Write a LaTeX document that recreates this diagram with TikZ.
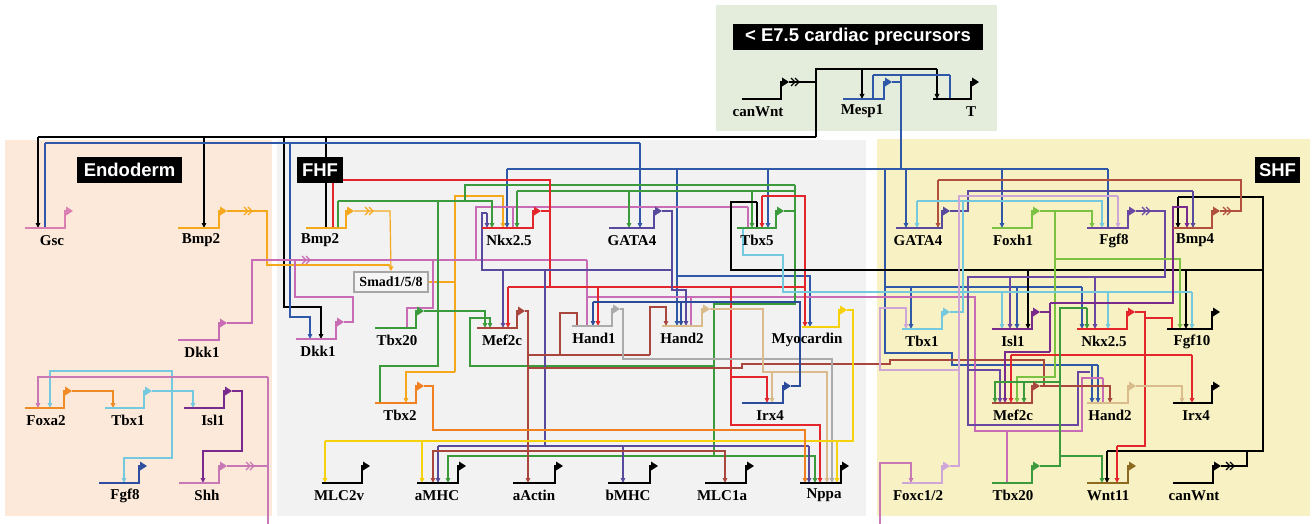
\documentclass[tikz,border=0pt]{standalone}
\usepackage{fontspec}
\setmainfont{Liberation Serif}
\newfontfamily\hdfont{Liberation Sans}
\usetikzlibrary{arrows.meta}
\definecolor{bgTop}{HTML}{E4ECDB}
\definecolor{bgEnd}{HTML}{FDE9D9}
\definecolor{bgFHF}{HTML}{F2F2F2}
\definecolor{bgSHF}{HTML}{F7F1C4}
\definecolor{cGsc}{HTML}{D97FB2}
\definecolor{cBmp}{HTML}{F6A81C}
\definecolor{cDkk}{HTML}{C86CB6}
\definecolor{cFoxa}{HTML}{F08A24}
\definecolor{cTbxa}{HTML}{74C9DE}
\definecolor{cIsl}{HTML}{7A2A8C}
\definecolor{cFgfE}{HTML}{2F4EA0}
\definecolor{cShh}{HTML}{C978B6}
\definecolor{cNkx}{HTML}{E3262B}
\definecolor{cGata}{HTML}{5A4A9E}
\definecolor{cTbxe}{HTML}{3A9A3C}
\definecolor{cTbxt}{HTML}{3A9A3C}
\definecolor{cMef}{HTML}{A9473E}
\definecolor{cHanda}{HTML}{ABABAB}
\definecolor{cHandb}{HTML}{D9BB8C}
\definecolor{cMyo}{HTML}{F6D20C}
\definecolor{cTbxb}{HTML}{F08020}
\definecolor{cIrx}{HTML}{2A4C9A}
\definecolor{cMesp}{HTML}{2F58A8}
\definecolor{cFoxh}{HTML}{7CC242}
\definecolor{cFgfS}{HTML}{6A48A2}
\definecolor{cBmpf}{HTML}{B2503E}
\definecolor{cFoxc}{HTML}{CFA6D8}
\definecolor{cWnt}{HTML}{8C6B20}
\pgfdeclarelayer{bg}
\pgfdeclarelayer{lines}
\pgfsetlayers{bg,lines,main}
\tikzset{
  ln/.style={line width=1.2pt},
  ac/.style={line width=1.2pt,-{Triangle[length=5pt,width=4.6pt]}},
  rp/.style={line width=1.2pt,-{Bar[width=6pt]}},
  glab/.style={font=\bfseries\fontsize{15}{15}\selectfont, inner sep=0pt},
  hdr/.style={fill=black, text=white, font=\hdfont\bfseries\fontsize{18.5}{18.5}\selectfont, inner sep=0pt, minimum height=26pt},
}
\newcommand\gene[7]{%
  \draw[line width=2.6pt,#2] (#3,#5) -- (#4,#5);
  \draw[line width=2pt,#2] ({#4-1},#5) -- ({#4-1},{#5-17}) -- ({#4+1},{#5-17});
  \fill[#2] ({#4},{#5-21.5}) -- ({#4+7},{#5-17}) -- ({#4},{#5-12.5}) -- cycle;
  \coordinate (#1o) at ({#4+7},{#5-17});
  \coordinate (#1) at (#3,#5);
  \node[glab] (#1l) at (#6,{#5+12.5}) {#7};
}
\newcommand\chev[3]{%
  \draw[#3,line width=1.2pt] (#1,{#2-4}) -- ({#1+4},#2) -- (#1,{#2+4})
    ({#1+4},{#2-4}) -- ({#1+8},#2) -- ({#1+4},{#2+4});
}
\begin{document}
\begin{tikzpicture}[x=1pt,y=-1pt]
\useasboundingbox (0,0) rectangle (1312,524);
\begin{pgfonlayer}{bg}
  \fill[white] (0,0) rectangle (1312,524);
  \fill[bgTop] (716,5) rectangle (997,131);
  \fill[bgEnd] (5,140) rectangle (272,516);
  \fill[bgFHF] (277,140) rectangle (866,516);
  \fill[bgSHF] (877,139) rectangle (1310,516);
\end{pgfonlayer}

% ---------- genes ----------
\gene{cwT}{black}{742}{782}{99}{758}{canWnt}
\gene{mesp}{cMesp}{843}{885}{99}{862}{Mesp1}
\gene{tT}{black}{933}{972}{99}{971}{T}
% endoderm
\gene{gsc}{cGsc}{25}{66}{228}{52}{Gsc}
\gene{bmpE}{cBmp}{178}{220}{228}{201}{Bmp2}
\gene{dkE}{cDkk}{178}{220}{340}{202}{Dkk1}
\gene{foxa}{cFoxa}{25}{65}{408}{46}{Foxa2}
\gene{tbxaE}{cTbxa}{105}{145}{408}{128}{Tbx1}
\gene{islE}{cIsl}{184}{225}{408}{213}{Isl1}
\gene{fgfE}{cFgfE}{99}{140}{483}{125}{Fgf8}
\gene{shh}{cShh}{179}{220}{483}{207}{Shh}
% FHF
\gene{bmpF}{cBmp}{306}{347}{228}{320}{Bmp2}
\gene{dkF}{cDkk}{296}{337}{339}{318}{Dkk1}
\gene{tbxtF}{cTbxt}{375}{417}{328}{397}{Tbx20}
\gene{tbxb}{cTbxb}{375}{417}{403}{400}{Tbx2}
\gene{mefF}{cMef}{477}{518}{328}{502}{Mef2c}
\gene{nkF}{cNkx}{482}{534}{228}{509}{Nkx2.5}
\gene{gataF}{cGata}{609}{655}{228}{632}{GATA4}
\gene{tbxeF}{cTbxe}{737}{777}{228}{757}{Tbx5}
\gene{ha}{cHanda}{572}{613}{326}{594}{Hand1}
\gene{hbF}{cHandb}{662}{703}{326}{682}{Hand2}
\gene{myo}{cMyo}{802}{840}{327}{807}{Myocardin}
\gene{irxF}{cIrx}{742}{784}{403}{770}{Irx4}
\gene{mlcv}{black}{322}{363}{483}{339}{MLC2v}
\gene{amhc}{black}{417}{459}{483}{437}{aMHC}
\gene{aact}{black}{513}{556}{483}{534}{aActin}
\gene{bmhc}{black}{608}{651}{483}{628}{bMHC}
\gene{mlca}{black}{705}{747}{483}{722}{MLC1a}
\gene{nppa}{black}{800}{842}{483}{824}{Nppa}
\node[draw=gray!70, line width=1.4pt, fill=gray!8, font=\bfseries\fontsize{14}{14}\selectfont, inner sep=0pt, minimum width=74pt, minimum height=20pt] (smad) at (391,282) {Smad1/5/8};
% SHF
\gene{gataS}{cGata}{896}{943}{228}{918}{GATA4}
\gene{foxh}{cFoxh}{992}{1033}{228}{1013}{Foxh1}
\gene{fgfS}{cFgfS}{1087}{1129}{228}{1114}{Fgf8}
\gene{bmpf}{cBmpf}{1173}{1213}{228}{1195}{Bmp4}
\gene{tbxaS}{cTbxa}{902}{943}{329}{922}{Tbx1}
\gene{islS}{cIsl}{992}{1033}{329}{1013}{Isl1}
\gene{nkS}{cNkx}{1077}{1128}{329}{1104}{Nkx2.5}
\gene{fgft}{black}{1167}{1213}{329}{1192}{Fgf10}
\gene{mefS}{cMef}{992}{1033}{403}{1013}{Mef2c}
\gene{hbS}{cHandb}{1087}{1129}{403}{1110}{Hand2}
\gene{irxS}{black}{1173}{1213}{403}{1196}{Irx4}
\gene{foxc}{cFoxc}{902}{943}{483}{918}{Foxc1/2}
\gene{tbxtS}{cTbxt}{992}{1033}{483}{1013}{Tbx20}
\gene{wnt}{cWnt}{1087}{1129}{483}{1108}{Wnt11}
\gene{cwS}{black}{1173}{1214}{483}{1194}{canWnt}

\begin{pgfonlayer}{lines}
% canWnt (top)
\draw[ln] (cwTo) -- (816,82); \chev{791}{82}{black}
\draw[ln] (816,137) -- (816,69) -- (937,69);
\draw[ac] (937,69) -- (937,0 |- tT);
\draw[ac] (862,69) -- (862,0 |- mesp);
\draw[ln] (816,137) -- (38,137);
\draw[ac] (38,137) -- (38,0 |- gsc);
\draw[ac] (204,137) -- (204,0 |- bmpE);
\draw[ac] (284,137) -- (284,307) -- (321,307) -- (321,0 |- dkF);
\draw[rp] (326,137) -- (326,0 |- bmpF);
% Mesp1
\draw[ln,cMesp] (mespo) -- (901,82);
\draw[ln,cMesp] (901,75) -- (901,169);
\draw[ln,cMesp] (873,75) -- (950,75);
\draw[rp,cMesp] (873,75) -- (873,0 |- mesp);
\draw[rp,cMesp] (950,75) -- (950,0 |- tT);
\draw[ln,cMesp] (1108,169) -- (507,169);
\draw[ac,cMesp] (507,169) -- (507,0 |- nkF);
\draw[ac,cMesp] (768,169) -- (768,0 |- tbxeF);
\draw[ac,cMesp] (677,169) -- (677,0 |- hbF);
\draw[ac,cMesp] (640,143) -- (640,0 |- gataF);
\draw[ln,cMesp] (640,143) -- (45,143);
\draw[rp,cMesp] (45,143) -- (45,0 |- gsc);
\draw[ac,cMesp] (290,143) -- (290,317) -- (310,317) -- (310,0 |- dkF);
\draw[ac,cMesp] (906,169) -- (906,0 |- gataS);
\draw[ac,cMesp] (1002,169) -- (1002,0 |- foxh);
\draw[rp,cMesp] (1108,169) -- (1108,0 |- fgfS);
\draw[ac,cMesp] (677,276) -- (810,276) -- (810,0 |- myo);
\draw[ln,cMesp] (885,169) -- (885,353) -- (952,353) -- (952,365) -- (1098,365);
\draw[ac,cMesp] (1098,365) -- (1098,0 |- hbS);
\draw[ac,cMesp] (1092,365) -- (1092,0 |- hbS);
\draw[ln,cMesp] (885,287) -- (1082,287);
\draw[ac,cMesp] (1082,287) -- (1082,0 |- nkS);
\draw[ac,cMesp] (911,287) -- (911,0 |- tbxaS);
\draw[ac,cMesp] (1017,287) -- (1017,0 |- islS);
% endoderm lower
\draw[ac,cFoxa] (foxao) -- (113,391) -- (113,0 |- tbxaE);
\draw[ac,cTbxa] (tbxaEo) -- (193,391) -- (193,0 |- islE);
\draw[ac,cTbxa] (172,391) -- (172,371) -- (50,371) -- (50,0 |- foxa);
\draw[ac,cTbxa] (172,391) -- (172,458) -- (124,458) -- (124,0 |- fgfE);
\draw[ac,cIsl] (islEo) -- (242,391) -- (242,451) -- (203,451) -- (203,0 |- shh);
\draw[ln,cShh] (shho) -- (268,466); \chev{246}{466}{cShh}
\draw[ln,cShh] (268,524) -- (268,377);
\draw[ac,cShh] (268,377) -- (38,377) -- (38,0 |- foxa);
\draw[ac,cShh] (880,524) -- (880,463) -- (911,463) -- (911,0 |- foxc);
% Bmp2 endoderm and FHF, Smad
\draw[ln,cBmp] (bmpEo) -- (267,211) -- (267,265) -- (390,265); \chev{244}{211}{cBmp}
\draw[ac,cBmp] (bmpFo) -- (390,211) -- (smad.north); \chev{365}{211}{cBmp}
\draw[ln,cBmp] (smad.east) -- (455,282);
\draw[ac,cBmp] (455,372) -- (455,196) -- (503,196) -- (503,0 |- nkF);
\draw[ac,cBmp] (455,372) -- (406,372) -- (406,0 |- tbxb);
% Dkk1
\draw[ln,cDkk] (dkEo) -- (252,323) -- (252,260) -- (587,260); \chev{302}{260}{cDkk}
\draw[rp,cDkk] (587,260) -- (587,0 |- ha);
\draw[rp,cDkk] (433,260) -- (433,308) -- (407,308) -- (407,0 |- tbxtF);
\draw[ln,cDkk] (476,260) -- (476,207) -- (748,207);
\draw[rp,cDkk] (748,207) -- (748,0 |- tbxeF);
\draw[rp,cDkk] (513,207) -- (513,0 |- nkF);
\draw[ln,cDkk] (587,297) -- (975,297) -- (975,431) -- (1082,431) -- (1082,378) -- (1103,378);
\draw[rp,cDkk] (1103,378) -- (1103,0 |- hbS);
\draw[rp,cDkk] (1007,431) -- (1007,0 |- tbxtS);
\draw[rp,cDkk] (691,297) -- (691,0 |- hbF);
\draw[ln,cDkk] (dkFo) -- (353,322) -- (353,297) -- (295,297) -- (295,260);
% Tbx20 FHF
\draw[ac,cTbxt] (tbxtFo) -- (485,311) -- (485,0 |- mefF);
\draw[ln,cTbxt] (438,311) -- (438,201);
\draw[rp,cTbxt] (438,311) -- (438,366) -- (380,366) -- (380,0 |- tbxb);
\draw[rp,cTbxt] (338,201) -- (338,0 |- bmpF);
\draw[ac,cTbxt] (338,201) -- (492,201) -- (492,0 |- nkF);
% Tbx5 FHF
\draw[ln,cTbxe] (tbxeFo) -- (795,211);
\draw[ln,cTbxe] (795,185) -- (795,304) -- (714,304) -- (714,456);
\draw[ln,cTbxe] (795,185) -- (465,185) -- (465,201);
\draw[ln,cTbxe] (795,191) -- (517,191);
\draw[ac,cTbxe] (517,191) -- (517,0 |- nkF);
\draw[ac,cTbxe] (629,191) -- (629,0 |- gataF);
\draw[ac,cTbxe] (752,191) -- (752,0 |- tbxeF);
\draw[ac,cTbxe] (714,366) -- (470,366) -- (470,318) -- (490,318) -- (490,0 |- mefF);
\draw[ac,cTbxe] (714,456) -- (448,456) -- (448,0 |- amhc);
\draw[ac,cTbxe] (714,456) -- (815,456) -- (815,0 |- nppa);
% Nkx2.5 FHF
\draw[ln,cNkx] (nkFo) -- (550,211);
\draw[rp,cNkx] (550,287) -- (550,180) -- (333,180) -- (333,0 |- bmpF);
\draw[ln,cNkx] (508,287) -- (805,287) -- (805,196) -- (762,196);
\draw[ac,cNkx] (762,196) -- (762,0 |- tbxeF);
\draw[ac,cNkx] (805,287) -- (805,0 |- myo);
\draw[ac,cNkx] (508,287) -- (508,0 |- mefF);
\draw[ac,cNkx] (598,287) -- (598,0 |- ha);
\draw[ac,cNkx] (731,287) -- (731,425) -- (820,425) -- (820,0 |- nppa);
\draw[ac,cNkx] (731,377) -- (767,377) -- (767,0 |- irxF);
% GATA4 FHF
\draw[ln,cGata] (gataFo) -- (672,211) -- (672,270) -- (482,270) -- (482,213) -- (487,213);
\draw[ac,cGata] (487,213) -- (487,0 |- nkF);
\draw[ac,cGata] (503,270) -- (503,0 |- mefF);
\draw[ac,cGata] (672,270) -- (672,290) -- (686,290) -- (686,0 |- hbF);
\draw[ln,cGata] (545,270) -- (545,446);
\draw[ln,cGata] (438,446) -- (809,446);
\draw[ac,cGata] (438,446) -- (438,0 |- amhc);
\draw[ac,cGata] (623,446) -- (623,0 |- bmhc);
\draw[ac,cGata] (809,446) -- (809,0 |- nppa);
% Mef2c FHF
\draw[ac,cMef] (mefFo) -- (528,311) -- (528,0 |- aact);
\draw[rp,cMef] (560,355) -- (560,313) -- (577,313) -- (577,0 |- ha);
\draw[ln,cMef] (528,355) -- (650,355);
\draw[ac,cMef] (650,355) -- (650,307) -- (666,307) -- (666,0 |- hbF);
\draw[ac,cMef] (528,451) -- (433,451) -- (433,0 |- amhc);
\draw[ac,cMef] (528,451) -- (725,451) -- (725,0 |- mlca);
\draw[ln,cMef] (528,368) -- (742,368) -- (742,364) -- (890,364) -- (890,360) -- (1044,360) -- (1044,387);
% Hand1, Hand2, Myocardin, Tbx2, Irx4 (FHF)
\draw[ac,cHanda] (hao) -- (623,309) -- (623,359) -- (832,359) -- (832,0 |- nppa);
\draw[ac,cHandb] (hbFo) -- (763,309) -- (763,372) -- (827,372) -- (827,0 |- nppa);
\draw[ac,cHandb] (763,372) -- (772,372) -- (772,0 |- irxF);
\draw[ln,cMyo] (myoo) -- (853,310) -- (853,441) -- (325,441);
\draw[ac,cMyo] (325,441) -- (325,0 |- mlcv);
\draw[ac,cMyo] (422,441) -- (422,0 |- amhc);
\draw[ac,cMyo] (837,441) -- (837,0 |- nppa);
\draw[ac,cTbxb] (tbxbo) -- (433,386) -- (433,430) -- (805,430) -- (805,0 |- nppa);
\draw[ln,cIrx] (irxFo) -- (800,386) -- (800,302) -- (593,302);
\draw[ac,cIrx] (593,302) -- (593,0 |- ha);
\draw[ac,cIrx] (681,302) -- (681,0 |- hbF);
% canWnt (SHF)
\draw[ln] (cwSo) -- (1247,466) -- (1247,451); \chev{1226}{466}{black}
\draw[ln] (1107,451) -- (1263,451) -- (1263,197) -- (1178,197);
\draw[ac] (1107,451) -- (1107,0 |- wnt);
\draw[ac] (1178,197) -- (1178,0 |- bmpf);
\draw[ln] (1263,270) -- (731,270) -- (731,202) -- (757,202);
\draw[rp] (757,202) -- (757,0 |- tbxeF);
\draw[ac] (1186,270) -- (1186,0 |- fgft);
\draw[ac] (1028,270) -- (1028,0 |- islS);
% GATA4 SHF
\draw[ln,cGata] (gataSo) -- (968,211) -- (968,191) -- (1193,191);
\draw[ac,cGata] (1193,191) -- (1193,0 |- bmpf);
% Fgf8 SHF
\draw[ln,cFgfS] (fgfSo) -- (1165,211) -- (1165,277) -- (968,277) -- (968,425) -- (1078,425) -- (1078,372) -- (1090,372); \chev{1142}{211}{cFgfS}
\draw[ac,cFgfS] (1010,277) -- (1010,0 |- islS);
\draw[ac,cFgfS] (1095,277) -- (1095,0 |- nkS);
\draw[ac,cFgfS] (968,370) -- (1000,370) -- (1000,0 |- mefS);
% Bmp4
\draw[ln,cBmpf] (bmpfo) -- (1241,211) -- (1241,180) -- (938,180); \chev{1223}{211}{cBmpf}
\draw[ac,cBmpf] (938,180) -- (938,0 |- gataS);
% Foxh1
\draw[ac,cFoxh] (foxho) -- (1092,211) -- (1092,0 |- fgfS);
\draw[ac,cFoxh] (1055,211) -- (1055,259) -- (1180,259) -- (1180,0 |- fgft);
\draw[ac,cFoxh] (1055,259) -- (1055,377) -- (1017,377) -- (1017,0 |- mefS);
% Tbx1 SHF
\draw[ln,cTbxa] (tbxaSo) -- (963,312) -- (963,201) -- (917,201);
\draw[ac,cTbxa] (917,201) -- (917,0 |- gataS);
\draw[ac,cTbxa] (963,201) -- (1102,201) -- (1102,0 |- fgfS);
\draw[rp,cTbxa] (963,292) -- (783,292) -- (783,255) -- (743,255) -- (743,0 |- tbxeF);
\draw[ln,cTbxa] (963,292) -- (1192,292);
\draw[ac,cTbxa] (1002,292) -- (1002,0 |- islS);
\draw[ac,cTbxa] (1108,292) -- (1108,0 |- nkS);
\draw[ac,cTbxa] (1192,292) -- (1192,0 |- fgft);
% Foxc1/2
\draw[ln,cFoxc] (foxco) -- (959,466) -- (959,196) -- (1118,196);
\draw[ac,cFoxc] (1118,196) -- (1118,0 |- fgfS);
\draw[ac,cFoxc] (959,370) -- (880,370) -- (880,308) -- (906,308) -- (906,0 |- tbxaS);
% Isl1 SHF
\draw[ln,cIsl] (islSo) -- (1050,312);
\draw[ln,cIsl] (1050,303) -- (1050,352);
\draw[ac,cIsl] (1050,352) -- (1005,352) -- (1005,0 |- mefS);
\draw[ac,cIsl] (1050,303) -- (1173,303) -- (1173,207) -- (1187,207) -- (1187,0 |- bmpf);
% Nkx2.5 SHF
\draw[ln,cNkx] (nkSo) -- (1145,312) -- (1145,446) -- (1117,446);
\draw[ac,cNkx] (1117,446) -- (1117,0 |- wnt);
\draw[rp,cNkx] (1145,318) -- (1172,318) -- (1172,0 |- fgft);
\draw[ln,cNkx] (1011,355) -- (1192,355);
\draw[ac,cNkx] (1011,355) -- (1011,0 |- mefS);
\draw[ac,cNkx] (1192,355) -- (1192,0 |- irxS);
% Mef2c, Hand2, Tbx20 SHF
\draw[ac,cMef] (mefSo) -- (1110,386) -- (1110,0 |- hbS);
\draw[ac,cHandb] (hbSo) -- (1182,386) -- (1182,0 |- irxS);
\draw[ln,cTbxt] (tbxtSo) -- (1060,466) -- (1060,308) -- (1087,308);
\draw[ac,cTbxt] (1087,308) -- (1087,0 |- nkS);
\draw[ac,cTbxt] (1060,456) -- (1102,456) -- (1102,0 |- wnt);
\draw[ac,cTbxt] (1060,382) -- (995,382) -- (995,0 |- mefS);
\draw[ac,cTbxt] (1024,382) -- (1024,0 |- mefS);
\end{pgfonlayer}

% headers
\node[hdr, minimum width=250pt] (hTop) at (858,37) {< E7.5 cardiac precursors};
\node[hdr, minimum width=105pt] (hEnd) at (129.5,170) {Endoderm};
\node[hdr, minimum width=46pt] (hFHF) at (320,170) {FHF};
\node[hdr, minimum width=45pt] (hSHF) at (1277.5,170) {SHF};
\end{tikzpicture}
\end{document}
